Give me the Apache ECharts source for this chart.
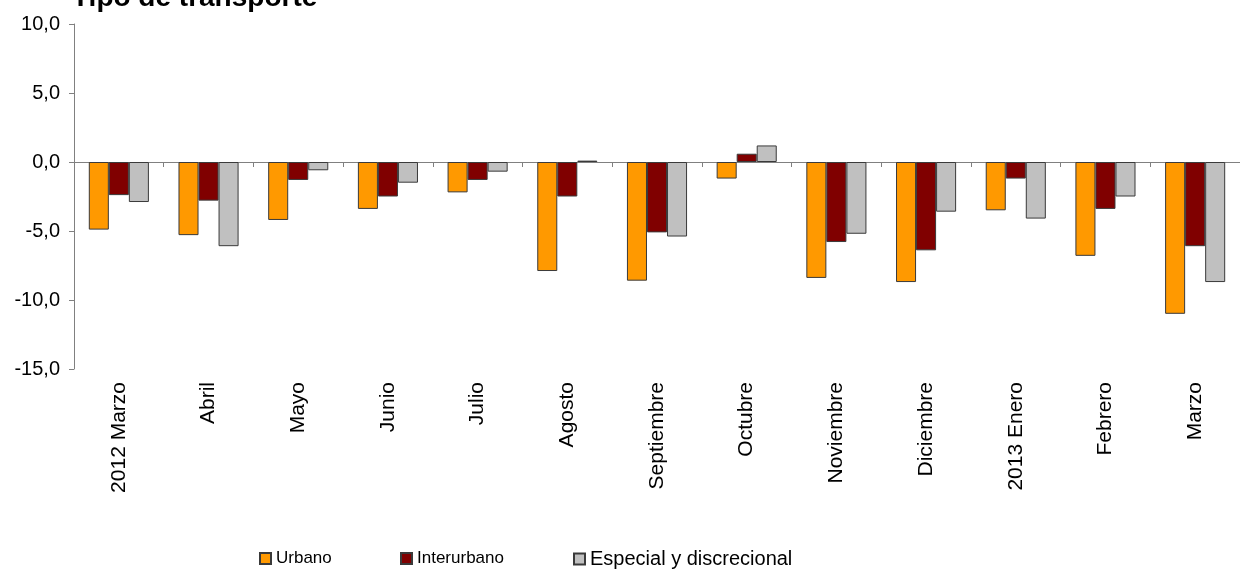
<!DOCTYPE html>
<html>
<head>
<meta charset="utf-8">
<script src="https://cdn.jsdelivr.net/npm/echarts@6/dist/echarts.min.js"></script>
<style>html,body{margin:0;padding:0;background:#fff}#c{width:1240px;height:570px}</style>
</head>
<body>
<div id="c"></div>
<script>
const categories = ['2012 Marzo','Abril','Mayo','Junio','Julio','Agosto','Septiembre','Octubre','Noviembre','Diciembre','2013 Enero','Febrero','Marzo'];
const urbano = [-4.9, -5.3, -4.2, -3.4, -2.2, -7.9, -8.6, -1.2, -8.4, -8.7, -3.5, -6.8, -11.0];
const interurbano = [-2.4, -2.8, -1.3, -2.5, -1.3, -2.5, -5.1, 0.6, -5.8, -6.4, -1.2, -3.4, -6.1];
const especial = [-2.9, -6.1, -0.6, -1.5, -0.7, 0.1, -5.4, 1.2, -5.2, -3.6, -4.1, -2.5, -8.7];
const yTicks = { min: -15, max: 10, interval: 5 };
const font = 'Liberation Sans, Arial, sans-serif';

const chart = echarts.init(document.getElementById('c'), null, {renderer: 'canvas'});
const border = { borderColor: '#3a3a3a', borderWidth: 1 };
function bar(name, data, color) {
  return {
    name: name, type: 'bar', data: data, xAxisIndex: 0,
    barGap: '0%', barCategoryGap: '33%',
    itemStyle: Object.assign({ color: color }, border)
  };
}
chart.setOption({
  animation: false,
  textStyle: { fontFamily: font },
  title: {
    text: 'Tipo de transporte', left: 67, top: -21,
    textStyle: { fontFamily: font, fontSize: 28, fontWeight: 'bold', color: '#000' }
  },
  grid: { left: 74, right: 0, top: 24, bottom: 201, containLabel: false },
  legend: [
    { data: ['Urbano'], left: 254, top: 545, icon: 'rect', itemWidth: 11, itemHeight: 11, itemGap: 6,
      textStyle: { fontFamily: font, fontSize: 17, color: '#000' } },
    { data: ['Interurbano'], left: 395, top: 545, icon: 'rect', itemWidth: 11, itemHeight: 11,
      textStyle: { fontFamily: font, fontSize: 17, color: '#000' } },
    { data: ['Especial y discrecional'], left: 568, top: 544, icon: 'rect', itemWidth: 11, itemHeight: 11,
      textStyle: { fontFamily: font, fontSize: 20, color: '#000' } }
  ],
  xAxis: [
    { type: 'category', data: categories, position: 'bottom',
      axisLine: { show: false, onZero: false }, axisTick: { show: false },
      axisLabel: { rotate: 90, margin: 13, fontSize: 21, color: '#000', fontFamily: font, interval: 0 } },
    { type: 'category', data: categories, position: 'bottom',
      axisLine: { show: true, onZero: true, lineStyle: { color: '#808080', width: 1 } },
      axisTick: { show: true, length: 5, lineStyle: { color: '#808080' } },
      axisLabel: { show: false }, splitLine: { show: false } }
  ],
  yAxis: {
    type: 'value', min: yTicks.min, max: yTicks.max, interval: yTicks.interval,
    axisLine: { show: true, lineStyle: { color: '#808080', width: 1 } },
    axisTick: { show: true, length: 5, lineStyle: { color: '#808080' } },
    splitLine: { show: false },
    axisLabel: { margin: 14, fontSize: 20, color: '#000', fontFamily: font,
      formatter: v => v.toFixed(1).replace('.', ',') }
  },
  series: [
    bar('Urbano', urbano, '#FF9900'),
    bar('Interurbano', interurbano, '#800000'),
    bar('Especial y discrecional', especial, '#C0C0C0')
  ]
});
</script>
</body>
</html>
